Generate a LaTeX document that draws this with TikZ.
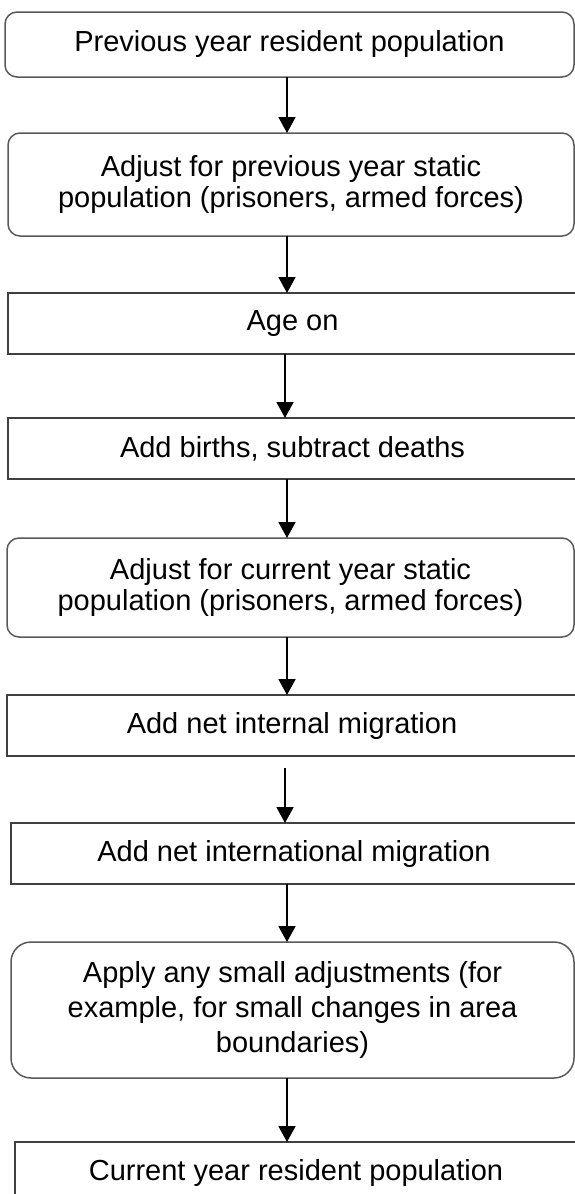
\documentclass[tikz,border=0pt]{standalone}
\usepackage{fontspec}
\setmainfont{Liberation Sans}
\usetikzlibrary{arrows.meta}

\tikzset{
	stepbox/.style={draw=black!75, line width=1.5pt, inner sep=0pt, outer sep=0pt, align=center, font=\fontsize{29}{31}\selectfont},
	roundbox/.style={stepbox, draw=black!65, rounded corners=12pt},
	arr/.style={line width=1.9pt, -{Triangle[width=17pt,length=16pt]}}
}

\begin{document}
\begin{tikzpicture}[x=1pt,y=-1pt]
	\useasboundingbox (0,0) rectangle (575,1194);
	\coordinate (axis) at (287,0);
	\node[roundbox, minimum width=569pt, minimum height=65pt] (prev) at (289.5,44.5) {Previous year resident population};
	\node[roundbox, minimum width=566pt, minimum height=103pt] (adjprev) at (291,184.5) {Adjust for previous  year static\\population (prisoners, armed forces)};
	\node[stepbox, minimum width=569pt, minimum height=61pt] (age) at (292.5,323.5) {Age on};
	\node[stepbox, minimum width=569pt, minimum height=61pt] (births) at (292.5,448.5) {Add births, subtract deaths};
	\node[roundbox, minimum width=567pt, minimum height=99pt] (adjcur) at (290.5,587.5) {Adjust for current year static\\population (prisoners, armed forces)};
	\node[stepbox, minimum width=570pt, minimum height=61pt] (internal) at (292,725.5) {Add net internal migration};
	\node[stepbox, minimum width=566pt, minimum height=61pt] (intl) at (294,853.5) {Add net international migration};
	\node[roundbox, rounded corners=20pt, minimum width=563pt, minimum height=136pt, font=\fontsize{29}{35}\selectfont] (small) at (292.5,1010) {Apply any small adjustments (for\\example, for small changes in area\\boundaries)};
	\node[stepbox, minimum width=562pt, minimum height=62pt] (cur) at (296,1173) {Current year resident population};

	\draw[arr] (prev.south -| axis) -- (adjprev.north -| axis);
	\draw[arr] (adjprev.south -| axis) -- (age.north -| axis);
	\draw[arr] ([xshift=-2pt]age.south -| axis) -- ([xshift=-2pt]births.north -| axis);
	\draw[arr] (births.south -| axis) -- (adjcur.north -| axis);
	\draw[arr] (adjcur.south -| axis) -- (internal.north -| axis);
	\draw[arr, shorten <=12pt] ([xshift=-2pt]internal.south -| axis) -- ([xshift=-2pt]intl.north -| axis);
	\draw[arr] (intl.south -| axis) -- (small.north -| axis);
	\draw[arr] (small.south -| axis) -- (cur.north -| axis);
\end{tikzpicture}
\end{document}
